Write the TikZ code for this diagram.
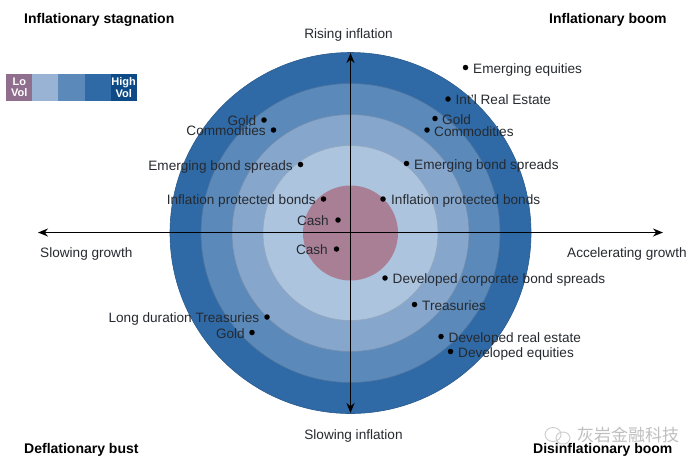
\documentclass[tikz,border=0pt]{standalone}
\usepackage{fontspec}
\setmainfont{Liberation Sans}
\newfontfamily\cjkfont{Noto Sans CJK SC}
\usetikzlibrary{arrows.meta}
\definecolor{ringA}{HTML}{2F6AA6}
\definecolor{ringB}{HTML}{5B89B9}
\definecolor{ringC}{HTML}{86A6CB}
\definecolor{ringD}{HTML}{ADC4DE}
\definecolor{core}{HTML}{A97F95}
\definecolor{lowvol}{HTML}{8F6F8D}
\definecolor{legendB}{HTML}{98B3D3}
\definecolor{highvol}{HTML}{0D4A86}
\definecolor{ink}{HTML}{262A30}
\tikzset{
  x=1pt,y=-1pt,
  ring/.style={draw=#1!85!black,line width=.6pt,fill=#1},
  dotmark/.style={circle,fill=black,inner sep=0pt,minimum size=5.5pt},
  lab/.style={inner sep=0pt,text=ink,font=\fontsize{13.6}{13.6}\selectfont},
  lableft/.style={lab,anchor=base east},
  labright/.style={lab,anchor=base west},
  labmid/.style={lab,anchor=base},
  corner/.style={inner sep=0pt,anchor=base west,text=black,font=\fontsize{14}{14}\selectfont\bfseries},
  cell/.style={minimum width=26.2pt,minimum height=27.5pt,inner sep=0pt,anchor=north west,fill=#1},
  celltext/.style={inner sep=0pt,text=white,align=center,font=\fontsize{11}{11.5}\selectfont\bfseries},
  axisline/.style={line width=1.8pt,black,{Stealth[length=10pt,width=8pt]}-{Stealth[length=10pt,width=8pt]}},
}
\begin{document}
\begin{tikzpicture}
\useasboundingbox[fill=white] (0,0) rectangle (700,467);
% rings
\node[ring=ringA,circle,minimum size=361pt,inner sep=0pt] (r1) at (350.5,233) {};
\node[ring=ringB,circle,minimum size=299pt,inner sep=0pt] (r2) at (350.5,233) {};
\node[ring=ringC,circle,minimum size=237pt,inner sep=0pt] (r3) at (350.5,233) {};
\node[ring=ringD,circle,minimum size=175pt,inner sep=0pt] (r4) at (350.5,233) {};
\node[fill=core,circle,minimum size=95pt,inner sep=0pt] (r5) at (350.5,233) {};
% axes
\coordinate (west) at (38,232.5);
\coordinate (east) at (663,232.5);
\coordinate (north) at (350.5,53);
\coordinate (south) at (350.5,413);
\draw[axisline] (west) -- (east);
\draw[axisline] (north) -- (south);
% legend
\node[cell=lowvol] (c1) at (6,73.5) {};
\node[cell=legendB] (c2) at (32.1,73.5) {};
\node[cell=ringB] (c3) at (58.2,73.5) {};
\node[cell=ringA] (c4) at (84.3,73.5) {};
\node[cell=highvol] (c5) at (110.4,73.5) {};
\node[celltext] (t1) at (c1.center) {Lo\\Vol};
\node[celltext] (t5) at (c5.center) {High\\Vol};
% corner titles
\node[corner] (q1) at (24,23.5) {Inflationary stagnation};
\node[corner] (q2) at (549,23.5) {Inflationary boom};
\node[corner] (q3) at (24,453) {Deflationary bust};
\node[corner] (q4) at (533,453) {Disinflationary boom};
% axis labels
\node[labmid] (a1) at (348.5,38.5) {Rising inflation};
\node[labmid] (a2) at (353.5,439.5) {Slowing inflation};
\node[labright] (a3) at (40,257.5) {Slowing growth};
\node[labright] (a4) at (567,257.5) {Accelerating growth};
% right labels
\node[dotmark] (d1) at (465.5,67.5) {};   \node[labright] (l1) at (473,73) {Emerging equities};
\node[dotmark] (d2) at (448,99) {};       \node[labright] (l2) at (455.5,104.5) {Int'l Real Estate};
\node[dotmark] (d3) at (435,118.5) {};    \node[labright] (l3) at (442,124) {Gold};
\node[dotmark] (d4) at (427,130) {};      \node[labright] (l4) at (434,136) {Commodities};
\node[dotmark] (d5) at (406.5,163.5) {};  \node[labright] (l5) at (414,169) {Emerging bond spreads};
\node[dotmark] (d6) at (383,199) {};      \node[labright] (l6) at (391,204.5) {Inflation protected bonds};
\node[dotmark] (d7) at (385,278) {};      \node[labright] (l7) at (392.5,283.5) {Developed corporate bond spreads};
\node[dotmark] (d8) at (414.5,304.5) {};  \node[labright] (l8) at (422,310) {Treasuries};
\node[dotmark] (d9) at (441,336.5) {};    \node[labright] (l9) at (448.5,342) {Developed real estate};
\node[dotmark] (d10) at (450.5,351.5) {}; \node[labright] (l10) at (458,357) {Developed equities};
% left labels
\node[dotmark] (e1) at (264,120) {};      \node[lableft] (m1) at (256.5,125.5) {Gold};
\node[dotmark] (e2) at (273.5,130) {};    \node[lableft] (m2) at (266,135.5) {Commodities};
\node[dotmark] (e3) at (300.5,164.5) {};  \node[lableft] (m3) at (293,170) {Emerging bond spreads};
\node[dotmark] (e4) at (323.5,199) {};    \node[lableft] (m4) at (316,204.5) {Inflation protected bonds};
\node[dotmark] (e5) at (338,220) {};      \node[lableft] (m5) at (329,225.5) {Cash};
\node[dotmark] (e6) at (336.5,249) {};    \node[lableft] (m6) at (328,254.5) {Cash};
\node[dotmark] (e7) at (267,317) {};      \node[lableft] (m7) at (259.5,322.5) {Long duration Treasuries};
\node[dotmark] (e8) at (252,332.5) {};    \node[lableft] (m8) at (245,338) {Gold};
% watermark
\draw[black!20,line width=.9pt] (553,434.5) ellipse [x radius=8pt,y radius=7pt];
\draw[black!20,line width=.9pt] (563,438) ellipse [x radius=7pt,y radius=6pt];
\node[inner sep=0pt,anchor=base west,text=black!25,font=\cjkfont\fontsize{17}{17}\selectfont] (wm) at (577,441) {灰岩金融科技};
\end{tikzpicture}
\end{document}
